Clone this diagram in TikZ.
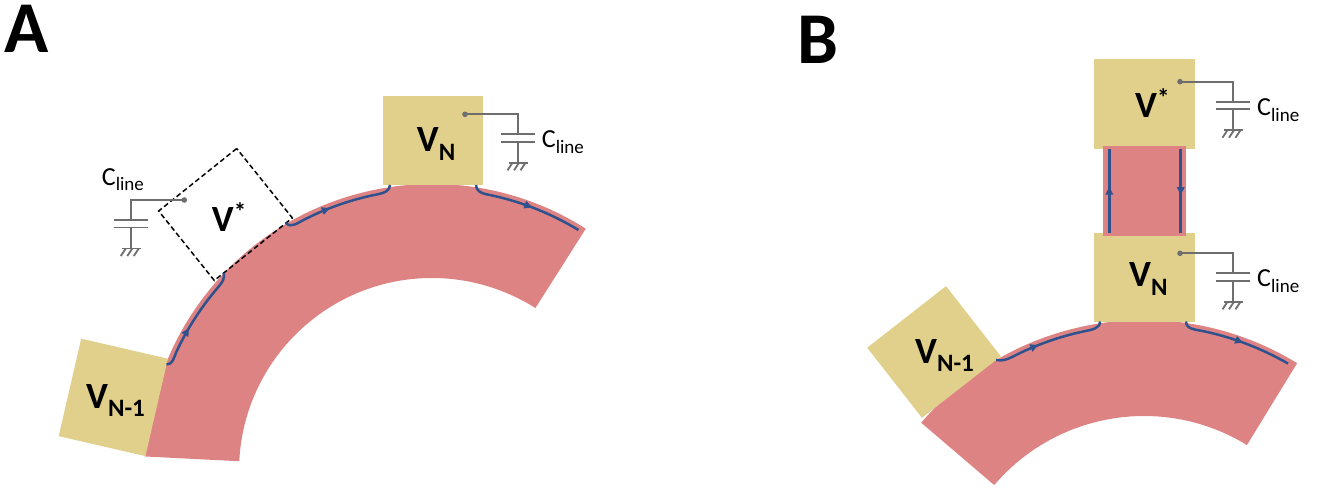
\documentclass[tikz,border=0pt]{standalone}
\usepackage{fontspec}
\setmainfont{Carlito}
\usetikzlibrary{calc,arrows.meta,decorations.markings}
\definecolor{boxtan}{HTML}{E0D08C}
\definecolor{bandred}{HTML}{DE8383}
\definecolor{edgeblue}{HTML}{2F528F}
\definecolor{capgray}{HTML}{6E6E6E}
\tikzset{
  tanbox/.style={fill=boxtan, draw=none, minimum width=100pt, minimum height=89pt, inner sep=0pt, outer sep=0pt},
  dashbox/.style={draw=black, dash pattern=on 5pt off 3pt, line width=1.5pt, minimum width=100pt, minimum height=89pt, inner sep=0pt, outer sep=0pt},
  band/.style={fill=bandred},
  edgeline/.style={draw=edgeblue, line width=2.5pt},
  capline/.style={draw=capgray, line width=1.8pt},
  flowarrow/.style={postaction={decorate}, decoration={markings, mark=at position #1 with {\arrow{Triangle[length=8pt,width=7.5pt]}}}},
  vlabel/.style={anchor=base west, inner sep=0pt, font=\fontsize{37}{37}\selectfont\bfseries},
  clabel/.style={anchor=base west, inner sep=0pt, font=\fontsize{26}{26}\selectfont},
  panellabel/.style={anchor=base west, inner sep=0pt, font=\fontsize{73}{73}\selectfont\bfseries},
}
\newcommand{\VSubLab}[1]{V\raisebox{-8.5pt}{\fontsize{25}{25}\selectfont #1}}
\newcommand{\VStarLab}{V\raisebox{11pt}{\fontsize{25}{25}\selectfont *}}
\newcommand{\CLlabel}{C\raisebox{-6pt}{\fontsize{19}{19}\selectfont line}}
\newcommand{\CapGnd}[2]{%
  \draw[capline] (#1) -- ++(#2*53,0) coordinate (#1k) -- ++(0,-20) coordinate (#1p);
  \draw[capline] ($(#1p)+(-17,0)$) -- ($(#1p)+(17,0)$);
  \draw[capline] ($(#1p)+(-17,-7.5)$) -- ($(#1p)+(17,-7.5)$);
  \draw[capline] ($(#1p)+(0,-7.5)$) -- ++(0,-21) coordinate (#1g);
  \draw[capline] ($(#1g)+(-9.5,0)$) -- ($(#1g)+(9.5,0)$);
  \foreach \hx in {-6.5,0,6.5}{\draw[capline] ($(#1g)+(\hx+1,0)$) -- ++(-5,-7.5);}
  \fill[capgray] (#1) circle[radius=2.8];
}
\begin{document}
\begin{tikzpicture}[x=1pt,y=1pt]
\useasboundingbox (0,0) rectangle (1338,491);
\fill[white] (0,0) rectangle (1338,491);

% ---------------- Panel A ----------------
\coordinate (CA) at (432,20);
\fill[band] ([shift={(57.6:287)}]CA) arc[start angle=57.6, end angle=177.1, radius=287]
  -- ([shift={(177.1:193)}]CA) arc[start angle=177.1, end angle=57.6, radius=193] -- cycle;

\node[tanbox] (vnA) at (433,350.5) {};
\node[tanbox, rotate=77] (vn1A) at (113.3,93.6) {};
\node[dashbox, rotate=38.7] (vsA) at (225.5,276.5) {};

\draw[edgeline, flowarrow=0.4] ($(vn1A.south east)!6pt!(vn1A.south west)$) to[out=0, in=-114] ([shift={(155:282)}]CA)
  arc[start angle=155, end angle=139.5, radius=282] to[out=49.5, in=-75] ($(vsA.south west)!12pt!(vsA.south east)$);
\draw[edgeline, flowarrow=0.42] ($(vsA.south east)!8pt!(vsA.south west)$) to[out=-51.3, in=207] ([shift={(117:282)}]CA)
  arc[start angle=117, end angle=101, radius=282] to[out=11, in=-90] ($(vnA.south west)+(7,0)$);
\draw[edgeline, flowarrow=0.55] ($(vnA.south east)+(-7,0)$) to[out=-90, in=169] ([shift={(79:282)}]CA)
  arc[start angle=79, end angle=58.7, radius=282];

\coordinate (dotA) at (465,376.7);
\CapGnd{dotA}{1}
\coordinate (dotAs) at (184.3,291);
\CapGnd{dotAs}{-1}

\node[vlabel] (labvnA) at ($(vnA.center)+(-16.3,-11.2)$) {\VSubLab{N}};
\node[vlabel] (labvn1A) at ($(vn1A.center)+(-27.3,-10.9)$) {\VSubLab{N-1}};
\node[vlabel] (labvsA) at ($(vsA.center)+(-13.8,-17.2)$) {\VStarLab};
\node[clabel] (clA) at ($(dotA)+(76.7,-33.5)$) {\CLlabel};
\node[clabel] (clAs) at ($(dotAs)+(-82.6,15)$) {\CLlabel};

% ---------------- Panel B ----------------
\coordinate (CB) at (1144,-122);
\fill[band] ([shift={(58.5:293)}]CB) arc[start angle=58.5, end angle=139.5, radius=293]
  -- ([shift={(139.5:197)}]CB) arc[start angle=139.5, end angle=58.5, radius=197] -- cycle;

\node[tanbox, minimum width=101pt] (vnB) at (1144.5,214) {};
\node[tanbox, minimum width=101pt, minimum height=90pt] (vsB) at (1144.5,386.7) {};
\fill[band] ($(vnB.north west)+(9,-3)$) rectangle ($(vsB.south east)+(-9,3)$);
\node[tanbox, rotate=38] (vn1B) at (934,139) {};

\draw[edgeline, flowarrow=0.4] ($(vn1B.south east)!6pt!(vn1B.south west)$) to[out=-10, in=207] ([shift={(117:288)}]CB)
  arc[start angle=117, end angle=102, radius=288] to[out=12, in=-90] ($(vnB.south west)+(6,0)$);
\draw[edgeline, flowarrow=0.56] ($(vnB.south east)+(-9,0)$) to[out=-90, in=168] ([shift={(78:288)}]CB)
  arc[start angle=78, end angle=60, radius=288];
\draw[edgeline, flowarrow=0.55] ($(vnB.north west)+(15.3,0)$) -- ($(vsB.south west)+(15.3,0)$);
\draw[edgeline, flowarrow=0.55] ($(vsB.south east)+(-14.3,0)$) -- ($(vnB.north east)+(-14.3,0)$);

\coordinate (dotBs) at (1180,409.3);
\CapGnd{dotBs}{1}
\coordinate (dotBn) at (1180,237.7);
\CapGnd{dotBn}{1}

\node[vlabel] (labvsB) at ($(vsB.center)+(-9.5,-13)$) {\VStarLab};
\node[vlabel] (labvnB) at ($(vnB.center)+(-15.5,-9.7)$) {\VSubLab{N}};
\node[vlabel] (labvn1B) at ($(vn1B.center)+(-19,-11.3)$) {\VSubLab{N-1}};
\node[clabel] (clBs) at ($(dotBs)+(77,-33.5)$) {\CLlabel};
\node[clabel] (clBn) at ($(dotBn)+(77,-33.5)$) {\CLlabel};

% panel letters
\node[panellabel] (pA) at (4,438) {A};
\node[panellabel] (pB) at (797,427.7) {B};
\end{tikzpicture}
\end{document}
